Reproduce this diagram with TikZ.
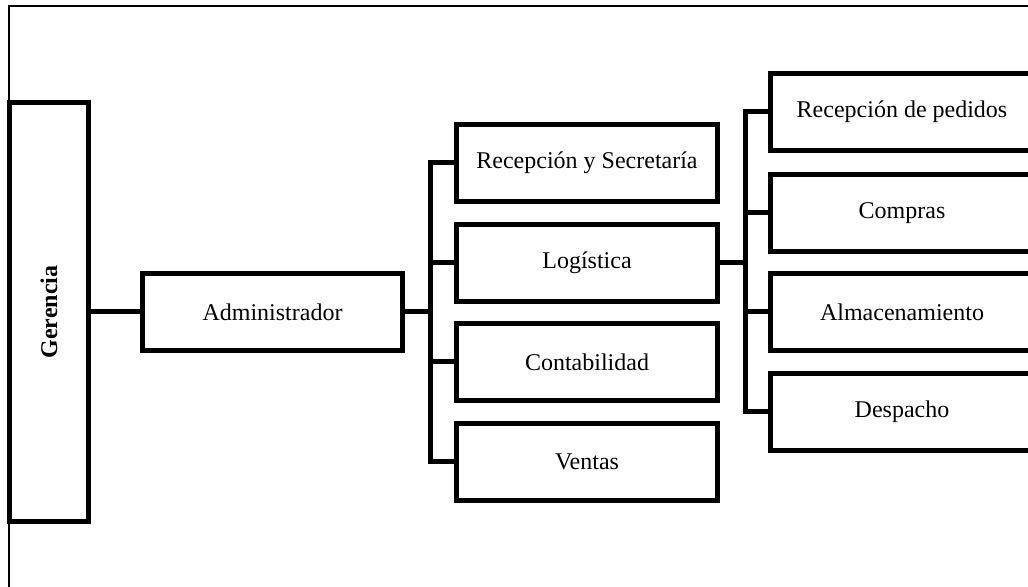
\documentclass[tikz,border=0pt]{standalone}
\usepackage{fontspec}
\setmainfont{Liberation Serif}
\begin{document}
\begin{tikzpicture}[x=0.5pt,y=-0.5pt,
  unit/.style={draw=black, line width=2.5pt, fill=white, inner sep=0pt, outer sep=0pt,
    minimum height=38.5pt, font=\fontsize{12}{14}\selectfont, align=center},
  lvlone/.style={unit, minimum width=130pt},
  lvltwo/.style={unit, minimum width=130.5pt},
  lvlthree/.style={unit, minimum width=131.5pt},
  link/.style={line width=2.5pt, line join=miter, line cap=rect}]
\useasboundingbox (0,0) rectangle (1028,587);
\clip (0,0) rectangle (1028,587);
% outer frame
\draw[line width=1pt] (9,6) rectangle (1060,620);

% boxes
\node[unit, minimum width=39.5pt, minimum height=209.5pt] (ger) at (49,312)
  {\rotatebox{90}{\bfseries Gerencia}};
\node[lvlone] (adm) at (272.5,312) {Administrador};

\node[lvltwo] (rys) at (587,163) {Recepción y Secretaría};
\node[lvltwo] (log) at (587,263) {Logística};
\node[lvltwo] (con) at (587,362) {Contabilidad};
\node[lvltwo] (ven) at (587,462) {Ventas};

\node[lvlthree] (ped) at (902,112) {Recepción de pedidos};
\node[lvlthree] (com) at (902,213) {Compras};
\node[lvlthree] (alm) at (902,312) {Almacenamiento};
\node[lvlthree] (des) at (902,412) {Despacho};

% bus junctions
\coordinate (b2) at (430,312);
\coordinate (b3) at (745,263);

% connectors
\draw[link] (ger.east) -- (ger.east -| adm.west);
\draw[link] (adm.east) -- (b2);
\draw[link] (rys.west) -- (rys.west -| b2) -- (ven.west -| b2) -- (ven.west);
\draw[link] (log.west -| b2) -- (log.west);
\draw[link] (con.west -| b2) -- (con.west);

\draw[link] (log.east) -- (b3);
\draw[link] (ped.west) -- (ped.west -| b3) -- (des.west -| b3) -- (des.west);
\draw[link] (com.west -| b3) -- (com.west);
\draw[link] (alm.west -| b3) -- (alm.west);
\end{tikzpicture}
\end{document}
